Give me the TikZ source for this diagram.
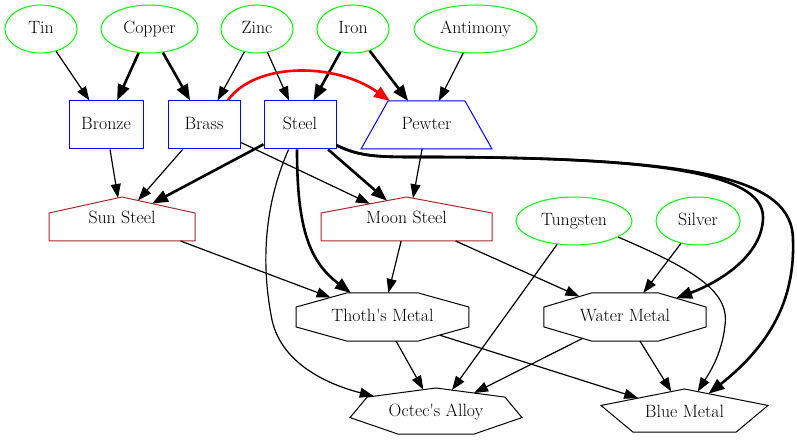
\documentclass[tikz,border=0pt]{standalone}
\usetikzlibrary{arrows.meta,shapes.geometric,calc}
\definecolor{gvgreen}{RGB}{0,255,0}
\definecolor{gvblue}{RGB}{0,0,255}
\definecolor{gvbrown}{RGB}{165,42,42}
\definecolor{gvred}{RGB}{255,0,0}
\tikzset{
  every node/.style={font=\rmfamily\fontsize{17.8pt}{20pt}\selectfont, text height=12.5pt, text depth=4pt},
  metal/.style={ellipse, draw=gvgreen, line width=1pt, inner sep=0pt, minimum height=48pt},
  alloybox/.style={rectangle, draw=gvblue, line width=1pt, inner sep=0pt, minimum width=72pt, minimum height=48pt},
  plainbox/.style={rectangle, inner sep=0pt, outer sep=0pt, minimum height=48pt},
  housebox/.style={rectangle, inner sep=0pt, outer sep=0pt, minimum height=44pt},
  pewterline/.style={draw=gvblue, line width=1pt, line join=miter},
  houseline/.style={draw=gvbrown, line width=1pt, line join=miter},
  gvpoly/.style={regular polygon, draw=black, line width=1pt, inner sep=0pt, outer sep=0pt, minimum size=20pt, text height=0pt, text depth=0pt, transform shape},
  lbl/.style={inner sep=0pt},
  thinedge/.style={line width=1.2pt, -{Triangle[length=14pt,width=10pt]}},
  thickedge/.style={line width=2.6pt, -{Triangle[length=16pt,width=12pt]}},
}
\begin{document}
\begin{tikzpicture}[x=1pt,y=-1pt]
\useasboundingbox (0,0) rectangle (797,443);
% raw metals
\node[metal, minimum width=72pt] (tin) at (41,29) {Tin};
\node[metal, minimum width=97pt] (copper) at (149.5,29) {Copper};
\node[metal, minimum width=72pt] (zinc) at (257,29) {Zinc};
\node[metal, minimum width=72pt] (iron) at (353,29) {Iron};
\node[metal, minimum width=123pt] (antimony) at (475.5,29) {Antimony};
\node[metal, minimum width=116pt] (tungsten) at (574,221) {Tungsten};
\node[metal, minimum width=84pt] (silver) at (698,221) {Silver};
% alloys
\node[alloybox, minimum width=74pt] (bronze) at (106,125) {Bronze};
\node[alloybox] (brass) at (204,125) {Brass};
\node[alloybox] (steel) at (300,125) {Steel};
\node[plainbox, minimum width=131pt] (pewter) at (426.5,125) {Pewter};
\draw[pewterline] (pewter.south west) -- (pewter.south east) -- ([xshift=-27pt]pewter.north east) -- ([xshift=27pt]pewter.north west) -- cycle;
% houses
\node[housebox, minimum width=146pt] (sun) at (122,219) {Sun Steel};
\draw[houseline] (sun.south west) -- (sun.south east) -- ([yshift=-16pt]sun.north east) -- (sun.north) -- ([yshift=-16pt]sun.north west) -- cycle;
\node[housebox, minimum width=171pt] (moon) at (406.5,219) {Moon Steel};
\draw[houseline] (moon.south west) -- (moon.south east) -- ([yshift=-16pt]moon.north east) -- (moon.north) -- ([yshift=-16pt]moon.north west) -- cycle;
% polygons
\begin{scope}[shift={(382.5,317)}]
  \node[gvpoly, regular polygon sides=8, xscale=9.36, yscale=2.6] (thoth) at (0,0) {};
\end{scope}
\node[lbl] (thothlabel) at (thoth.center) {Thoth\textquotesingle s Metal};
\begin{scope}[shift={(625,317)}]
  \node[gvpoly, regular polygon sides=8, xscale=8.77, yscale=2.6] (water) at (0,0) {};
\end{scope}
\node[lbl] (waterlabel) at (water.center) {Water Metal};
\begin{scope}[shift={(436,412.2)}]
  \node[gvpoly, regular polygon sides=7, xscale=8.82, yscale=2.42] (octec) at (0,0) {};
\end{scope}
\node[lbl] (octeclabel) at (octec.center) {Octec\textquotesingle s Alloy};
\begin{scope}[shift={(684.5,412.8)}]
  \node[gvpoly, regular polygon sides=5, xscale=8.78, yscale=2.38] (blue) at (0,0) {};
\end{scope}
\node[lbl] (bluelabel) at (blue.center) {Blue Metal};
% edges top
\draw[thinedge] (tin) -- (bronze);
\draw[thickedge] (copper) -- (bronze);
\draw[thickedge] (copper) -- (brass);
\draw[thinedge] (zinc) -- (brass);
\draw[thinedge] (zinc) -- (steel);
\draw[thickedge] (iron) -- (steel);
\draw[thickedge] (iron) -- (pewter);
\draw[thinedge] (antimony) -- (pewter);
\draw[thickedge, draw=gvred] (brass.46) .. controls (255,62) and (335,62) .. ([xshift=29pt]pewter.north west);
% into houses
\draw[thinedge] (bronze) -- ([xshift=-4pt,yshift=-1pt]sun.north);
\draw[thinedge] (brass) -- ([xshift=16pt,yshift=-3.5pt]sun.north);
\draw[thickedge] (steel) -- ([xshift=30pt,yshift=-6.6pt]sun.north);
\draw[thinedge] (brass) -- ([xshift=-36.5pt,yshift=-6.8pt]moon.north);
\draw[thickedge] (steel) -- ([xshift=-19.5pt,yshift=-3.7pt]moon.north);
\draw[thinedge] (pewter) -- ([xshift=6.5pt,yshift=-1.2pt]moon.north);
% steel curves
\draw[thickedge] (steel.-97) .. controls (297,230) and (310,262) .. (thoth);
\draw[thinedge] (steel.-115) .. controls (262,210) and (262,270) .. (272,320) .. controls (282,365) and (330,385) .. (octec);
\draw[thickedge] (steel.-29) .. controls (360,157) and (380,157) .. (420,157) .. controls (640,157) and (763,170) .. (763,217) .. controls (763,255) and (720,282) .. (water);
\draw[thickedge] (steel.-29) .. controls (360,157) and (380,157) .. (420,157) .. controls (700,157) and (793,178) .. (793,240) .. controls (795,300) and (770,345) .. (blue);
% middle
\draw[thinedge] (sun) -- (thoth);
\draw[thinedge] (moon) -- (thoth);
\draw[thinedge] (moon) -- (water);
\draw[thinedge] (silver) -- (water);
\draw[thinedge] (tungsten) -- (octec);
\draw[thinedge] (tungsten.-20) .. controls (690,268) and (730,290) .. (725,325) .. controls (722,355) and (708,375) .. (blue);
% bottom
\draw[thinedge] (thoth) -- (octec);
\draw[thinedge] (thoth) -- (blue);
\draw[thinedge] (water) -- (octec);
\draw[thinedge] (water) -- (blue);
\end{tikzpicture}
\end{document}
